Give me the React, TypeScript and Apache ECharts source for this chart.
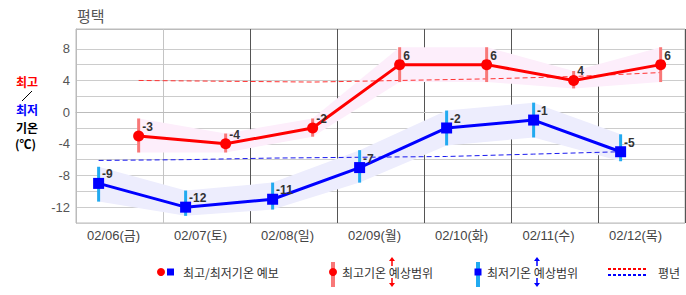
import React, { useEffect, useRef } from "react";
import * as echarts from "echarts";

const categories = ["02/06(금)", "02/07(토)", "02/08(일)", "02/09(월)", "02/10(화)", "02/11(수)", "02/12(목)"];
const maxTemps = [-3, -4, -2, 6, 6, 4, 6];
const minTemps = [-9, -12, -11, -7, -2, -1, -5];
const maxRangeHigh = [-0.8, -2.7, -0.8, 8.2, 8.2, 5.2, 8.2];
const maxRangeLow = [-5.1, -5.1, -3.1, 3.8, 3.8, 3.0, 3.8];
const minRangeHigh = [-6.9, -9.9, -8.9, -4.8, 0.2, 1.2, -2.8];
const minRangeLow = [-11.3, -13.1, -12.3, -8.9, -4.2, -3.2, -6.2];
const normalMax = [4.0, 3.9, 3.8, 4.0, 4.2, 4.5, 5.0];
const normalMin = [-6.1, -6.0, -5.8, -5.7, -5.6, -5.3, -5.0];
const yTickLabels = [-12, -8, -4, 0, 4, 8];

const MAX_POS = 0.72; // position of daily max within the day band
const MIN_POS = 0.26; // position of daily min within the day band

const FONT = "'Liberation Sans', 'Noto Sans CJK KR', sans-serif";
const KFONT = "'Noto Sans CJK KR', 'Liberation Sans', sans-serif";

function bandData(hi: number[], lo: number[], pos: number) {
  const out: number[][] = [];
  for (let i = 0; i < hi.length - 1; i++) {
    out.push([i + pos, hi[i], lo[i], i + 1 + pos, hi[i + 1], lo[i + 1]]);
  }
  return out;
}

function bandSeries(hi: number[], lo: number[], pos: number, color: string) {
  return {
    type: "custom",
    xAxisIndex: 1,
    z: 1,
    silent: true,
    data: bandData(hi, lo, pos),
    encode: { x: [0, 3], y: [1, 2, 4, 5] },
    renderItem: (params: any, api: any) => {
      const a = api.coord([api.value(0), api.value(1)]);
      const b = api.coord([api.value(3), api.value(4)]);
      const c = api.coord([api.value(3), api.value(5)]);
      const d = api.coord([api.value(0), api.value(2)]);
      return {
        type: "polygon",
        shape: { points: [a, b, c, d] },
        style: { fill: color },
      };
    },
  };
}

function rangeBarSeries(hi: number[], lo: number[], pos: number, color: string) {
  return {
    type: "custom",
    xAxisIndex: 1,
    z: 3,
    silent: true,
    data: hi.map((h, i) => [i + pos, h, lo[i]]),
    encode: { x: 0, y: [1, 2] },
    renderItem: (params: any, api: any) => {
      const t = api.coord([api.value(0), api.value(1)]);
      const b = api.coord([api.value(0), api.value(2)]);
      return {
        type: "rect",
        shape: { x: t[0] - 1.5, y: t[1], width: 3, height: b[1] - t[1] },
        style: { fill: color },
      };
    },
  };
}

function lineSeries(values: number[], pos: number, color: string, symbol: string, size: number) {
  return {
    type: "line",
    xAxisIndex: 1,
    z: 5,
    data: values.map((v, i) => [i + pos, v]),
    symbol,
    symbolSize: size,
    lineStyle: { color, width: 3 },
    itemStyle: { color },
    label: {
      show: true,
      position: "right",
      distance: 0,
      offset: [-2, -9],
      color: "#333",
      fontWeight: "bold",
      fontSize: 12,
      fontFamily: FONT,
      formatter: (p: any) => String(p.value[1]),
    },
  };
}

function normalSeries(values: number[], pos: number, color: string) {
  return {
    type: "line",
    xAxisIndex: 1,
    z: 2,
    silent: true,
    data: values.map((v, i) => [i + pos, v]),
    symbol: "none",
    lineStyle: { color, width: 1, type: [5, 3] },
  };
}

function arrow(x: number, y1: number, y2: number, up: boolean, color: string) {
  const tip = up ? y1 : y2;
  const dir = up ? 1 : -1;
  return [
    { type: "line", shape: { x1: x, y1: up ? y1 + 3 : y1, x2: x, y2: up ? y2 : y2 - 3 }, style: { stroke: color, lineWidth: 1.5 } },
    {
      type: "polygon",
      shape: { points: [[x, tip], [x - 3, tip + dir * 4], [x + 3, tip + dir * 4]] },
      style: { fill: color },
    },
  ];
}

export default function App() {
  const ref = useRef<HTMLDivElement>(null);

  useEffect(() => {
    if (!ref.current) return;
    const chart = echarts.init(ref.current, undefined, { renderer: "svg" });

    const ySplitColors: string[] = [];
    for (let v = -14; v <= 10; v += 2) ySplitColors.push(v === 10 ? "rgba(0,0,0,0)" : "#cccccc");
    ySplitColors.push("#bbbbbb");

    const xSplitColors = ["#bbbbbb", "#c4c4c4", "#555555", "#555555", "#555555", "#555555", "#555555", "#555555"];

    const legendText = { fill: "#333", fontSize: 12, fontFamily: KFONT, verticalAlign: "middle" };

    const option: any = {
      animation: false,
      textStyle: { fontFamily: FONT },
      grid: { left: 76, right: 1, top: 29, bottom: 72, show: true, borderColor: "#bbbbbb", borderWidth: 1 },
      xAxis: [
        {
          type: "category",
          data: categories,
          boundaryGap: true,
          axisLine: { show: true, lineStyle: { color: "#bbbbbb" } },
          axisTick: { show: false },
          axisLabel: { color: "#444", fontSize: 13, margin: 6, interval: 0, fontFamily: FONT, padding: [0, 12, 0, 0] },
          splitLine: { show: true, interval: 0, lineStyle: { color: xSplitColors, width: 1 } },
        },
        {
          type: "value",
          min: 0,
          max: 7,
          show: false,
        },
      ],
      yAxis: {
        type: "value",
        min: -14,
        max: 10.5,
        interval: 2,
        axisLine: { show: true, lineStyle: { color: "#bbbbbb" } },
        axisTick: { show: false },
        axisLabel: {
          color: "#555",
          fontSize: 13,
          margin: 6,
          fontFamily: FONT,
          formatter: (v: number) => (yTickLabels.includes(v) ? String(v) : ""),
        },
        splitLine: { show: true, lineStyle: { color: ySplitColors, width: 1 } },
      },
      series: [
        bandSeries(maxRangeHigh, maxRangeLow, MAX_POS, "#fdeefb"),
        bandSeries(minRangeHigh, minRangeLow, MIN_POS, "#ededfd"),
        normalSeries(normalMax, MAX_POS, "#ff3333"),
        normalSeries(normalMin, MIN_POS, "#1a1aee"),
        rangeBarSeries(maxRangeHigh, maxRangeLow, MAX_POS, "#f87878"),
        rangeBarSeries(minRangeHigh, minRangeLow, MIN_POS, "#22aaf0"),
        lineSeries(maxTemps, MAX_POS, "#ff0000", "circle", 11),
        lineSeries(minTemps, MIN_POS, "#0000ff", "rect", 11),
      ],
      graphic: [
        { type: "text", left: 77, top: 8, style: { text: "평택", fill: "#555", fontSize: 15, fontFamily: KFONT } },
        { type: "text", x: 16, y: 81, style: { text: "최고", fill: "#ff0000", fontSize: 12, fontWeight: "bold", fontFamily: KFONT, verticalAlign: "middle" } },
        { type: "line", shape: { x1: 32, y1: 91, x2: 22, y2: 101 }, style: { stroke: "#000", lineWidth: 1 } },
        { type: "text", x: 16, y: 109, style: { text: "최저", fill: "#0000ff", fontSize: 12, fontWeight: "bold", fontFamily: KFONT, verticalAlign: "middle" } },
        { type: "text", x: 16, y: 127, style: { text: "기온", fill: "#000", fontSize: 12, fontWeight: "bold", fontFamily: KFONT, verticalAlign: "middle" } },
        { type: "text", x: 15, y: 143, style: { text: "(℃)", fill: "#000", fontSize: 12, fontWeight: "bold", fontFamily: KFONT, verticalAlign: "middle" } },

        { type: "circle", shape: { cx: 161, cy: 272, r: 4 }, style: { fill: "#ff0000" } },
        { type: "rect", shape: { x: 167, y: 268.5, width: 7, height: 7 }, style: { fill: "#0000ff" } },
        { type: "text", x: 183, y: 272, style: { text: "최고/최저기온 예보", ...legendText } },

        { type: "rect", shape: { x: 331, y: 262, width: 4, height: 25 }, style: { fill: "#f87878" } },
        { type: "circle", shape: { cx: 333, cy: 272, r: 4 }, style: { fill: "#ff0000" } },
        { type: "text", x: 342, y: 272, style: { text: "최고기온 예상범위", ...legendText } },
        ...arrow(392, 257, 266, true, "#ff0000"),
        ...arrow(392, 278, 287, false, "#ff0000"),

        { type: "rect", shape: { x: 476, y: 262, width: 4, height: 25 }, style: { fill: "#22aaf0" } },
        { type: "rect", shape: { x: 474.5, y: 268.5, width: 7, height: 7 }, style: { fill: "#0000ff" } },
        { type: "text", x: 487, y: 272, style: { text: "최저기온 예상범위", ...legendText } },
        ...arrow(537, 257, 266, true, "#0000ff"),
        ...arrow(537, 278, 287, false, "#0000ff"),

        { type: "line", shape: { x1: 608, y1: 269, x2: 648, y2: 269 }, style: { stroke: "#ff0000", lineWidth: 2, lineDash: [3, 2] } },
        { type: "line", shape: { x1: 608, y1: 275, x2: 648, y2: 275 }, style: { stroke: "#0000ff", lineWidth: 2, lineDash: [3, 2] } },
        { type: "text", x: 658, y: 272, style: { text: "평년", ...legendText } },
      ],
    };

    chart.setOption(option);
    return () => chart.dispose();
  }, []);

  return (
    <div
      ref={ref}
      style={{ position: "fixed", left: 0, top: 0, width: 686, height: 295, background: "#fff" }}
    />
  );
}
